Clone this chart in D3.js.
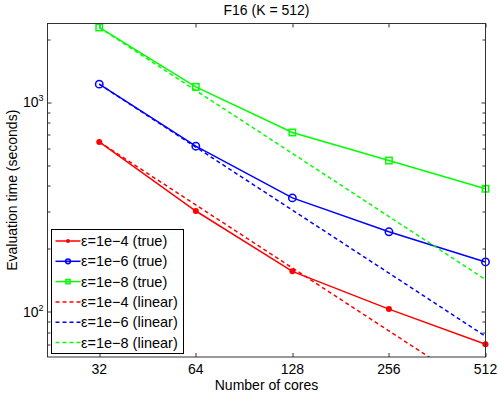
<!DOCTYPE html>
<html>
<head>
<meta charset="utf-8">
<script src="https://cdn.jsdelivr.net/npm/d3@7"></script>
<style>
  body { margin: 0; background: #fff; }
  text { font-family: "Liberation Sans", Arial, sans-serif; fill: #000; }
</style>
</head>
<body>
<div id="plot"></div>
<script>
const cores = [32, 64, 128, 256, 512];
const trueE4 = [648, 303, 156, 103, 70];
const trueE6 = [1223, 618, 350, 241, 173];
const trueE8 = [2282, 1187, 719, 528, 387];
const linE4 = [648, 324, 162, 81, 40.5];
const linE6 = [1223, 612, 306, 153, 76.4];
const linE8 = [2282, 1141, 571, 285, 142.6];
const yMajor = [100, 1000];
const yMinor = [70, 80, 90, 200, 300, 400, 500, 600, 700, 800, 900, 2000];

const series = [
  { name: "ε=1e−4 (true)", values: trueE4, color: "#ff0000", marker: "dot" },
  { name: "ε=1e−6 (true)", values: trueE6, color: "#0000ff", marker: "circle" },
  { name: "ε=1e−8 (true)", values: trueE8, color: "#00ff00", marker: "square" },
  { name: "ε=1e−4 (linear)", values: linE4, color: "#ff0000", dashed: true },
  { name: "ε=1e−6 (linear)", values: linE6, color: "#0000ff", dashed: true },
  { name: "ε=1e−8 (linear)", values: linE8, color: "#00ff00", dashed: true }
];

const W = 498, H = 393;
const margin = { top: 23.5, right: 12.5, bottom: 36, left: 47.5 };
const width = W - margin.left - margin.right;
const height = H - margin.top - margin.bottom;
const fs = 14;

const x = d3.scaleLog().base(2).domain([22.07, 512]).range([0, width]);
const y = d3.scaleLog().domain([60.8, 2384]).range([height, 0]);

const svg = d3.select("#plot").append("svg")
  .attr("width", W).attr("height", H);

svg.append("text")
  .attr("x", margin.left + width / 2).attr("y", 15)
  .attr("text-anchor", "middle").attr("font-size", fs)
  .text("F16 (K = 512)");

const g = svg.append("g")
  .attr("transform", `translate(${margin.left},${margin.top})`);

g.append("rect").attr("width", width).attr("height", height).attr("fill", "#fff");

g.append("clipPath").attr("id", "clip")
  .append("rect").attr("width", width).attr("height", height);

const axisColor = "#333";

// ticks (inward, all four sides)
const tickG = g.append("g").attr("stroke", axisColor).attr("stroke-width", 1);
cores.forEach(c => {
  const px = Math.round(x(c)) + 0.5;
  tickG.append("line").attr("x1", px).attr("x2", px).attr("y1", height).attr("y2", height - 4);
  tickG.append("line").attr("x1", px).attr("x2", px).attr("y1", 0).attr("y2", 4);
});
yMajor.concat(yMinor).forEach(v => {
  const py = Math.round(y(v)) + 0.5;
  const len = yMajor.includes(v) ? 4 : 3;
  tickG.append("line").attr("x1", 0).attr("x2", len).attr("y1", py).attr("y2", py);
  tickG.append("line").attr("x1", width).attr("x2", width - len).attr("y1", py).attr("y2", py);
});

// tick labels
cores.forEach(c => {
  g.append("text")
    .attr("x", x(c)).attr("y", height + 16.5)
    .attr("text-anchor", "middle").attr("font-size", fs)
    .text(c);
});
yMajor.forEach(v => {
  const t = g.append("text")
    .attr("x", -4).attr("y", y(v) + 5)
    .attr("text-anchor", "end").attr("font-size", fs);
  t.append("tspan").text("10");
  t.append("tspan").attr("dy", -6).attr("font-size", 9).text(Math.round(Math.log10(v)));
});

svg.append("text")
  .attr("x", margin.left + width / 2).attr("y", 390)
  .attr("text-anchor", "middle").attr("font-size", fs)
  .text("Number of cores");

svg.append("text")
  .attr("transform", `translate(17,${margin.top + height / 2}) rotate(-90)`)
  .attr("text-anchor", "middle").attr("font-size", fs)
  .text("Evaluation time (seconds)");

// lines
const line = d3.line()
  .x((d, i) => x(cores[i]))
  .y(d => y(d));

const plot = g.append("g").attr("clip-path", "url(#clip)");

series.forEach(s => {
  plot.append("path")
    .datum(s.values)
    .attr("fill", "none")
    .attr("stroke", s.color)
    .attr("stroke-width", 1.5)
    .attr("stroke-dasharray", s.dashed ? "4,3" : null)
    .attr("d", line);
});

function drawMarker(sel, type, color, cx, cy, k) {
  if (type === "dot") {
    sel.append("circle").attr("cx", cx).attr("cy", cy).attr("r", 3 * k).attr("fill", color);
  } else if (type === "circle") {
    sel.append("circle").attr("cx", cx).attr("cy", cy).attr("r", 3.7 * k)
      .attr("fill", "none").attr("stroke", color).attr("stroke-width", 1.5);
  } else if (type === "square") {
    const h = 3.2 * k;
    sel.append("rect").attr("x", cx - h).attr("y", cy - h).attr("width", 2 * h).attr("height", 2 * h)
      .attr("fill", "none").attr("stroke", color).attr("stroke-width", 1.5);
  }
}

series.filter(s => s.marker).forEach(s => {
  s.values.forEach((v, i) => drawMarker(g, s.marker, s.color, x(cores[i]), y(v), 1));
});

// frame
g.append("rect").attr("width", width).attr("height", height)
  .attr("fill", "none").attr("stroke", axisColor).attr("stroke-width", 1);

// legend
const legend = svg.append("g").attr("transform", "translate(51.5,229.5)");
legend.append("rect").attr("width", 132).attr("height", 124)
  .attr("fill", "#fff").attr("stroke", "#000").attr("stroke-width", 1);

series.forEach((s, i) => {
  const ly = 11.5 + i * 20.3;
  legend.append("line")
    .attr("x1", 4).attr("x2", 29).attr("y1", ly).attr("y2", ly)
    .attr("stroke", s.color).attr("stroke-width", 1.5)
    .attr("stroke-dasharray", s.dashed ? "4,3" : null);
  if (s.marker) drawMarker(legend, s.marker, s.color, 16.5, ly, 0.65);
  legend.append("text")
    .attr("x", 29.5).attr("y", ly + 5).attr("font-size", 14.5)
    .text(s.name);
});
</script>
</body>
</html>
